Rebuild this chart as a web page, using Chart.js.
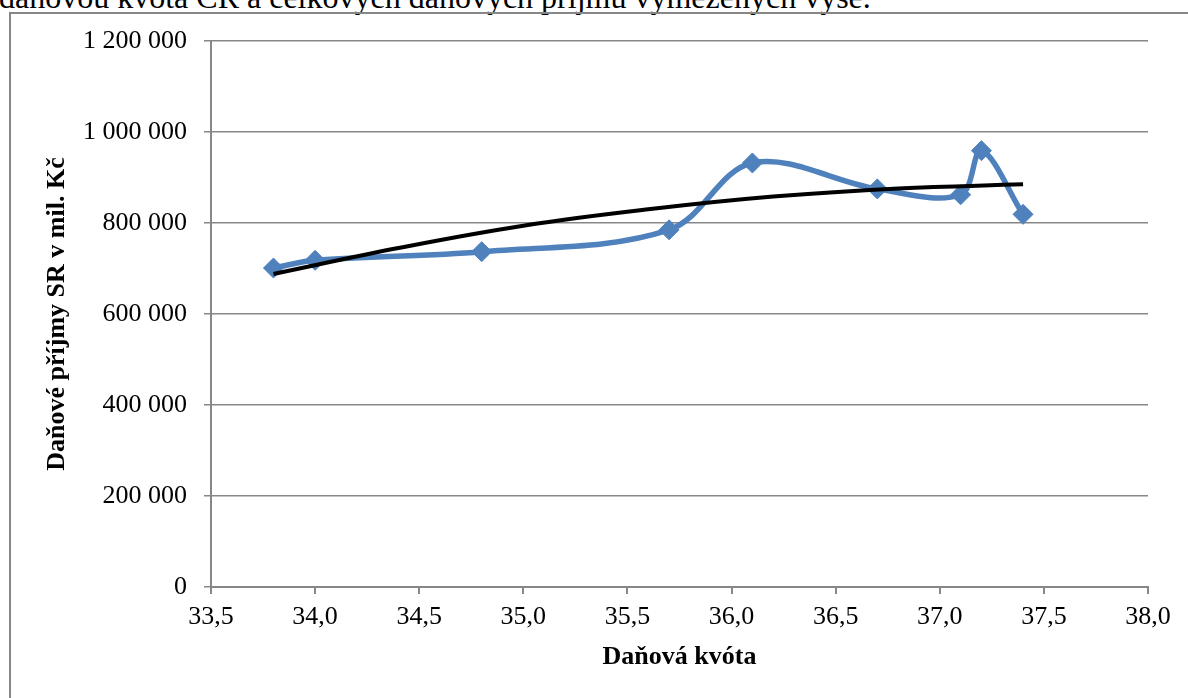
<!DOCTYPE html>
<html lang="cs">
<head>
<meta charset="utf-8">
<title>Daňové příjmy a daňová kvóta</title>
<script src="https://cdn.jsdelivr.net/npm/chart.js@4.4.1/dist/chart.umd.min.js"></script>
<style>
    html, body { margin: 0; padding: 0; background: #fff; overflow: hidden; }
    body { width: 1188px; height: 698px; position: relative; }
    .text {
        position: absolute; left: -1px; top: -19px; white-space: nowrap;
        font: 32px/32px 'Liberation Serif', 'Times New Roman', serif; color: #000;
    }
    .frame {
        position: absolute; left: 9px; top: 12px; width: 1300px; height: 800px;
        border: 2px solid #878787;
    }
    #chart { position: absolute; left: 0; top: 0; }
</style>
</head>
<body>
<div class="text">daňovou kvóta ČR a celkových daňových příjmů vymezených výše.</div>
<div class="frame"></div>
<canvas id="chart" width="1188" height="698"></canvas>
<script>
// daňová kvóta (%) a daňové příjmy (mil. Kč)
const kvota = [33.8, 34.0, 34.8, 35.7, 36.1, 36.7, 37.1, 37.2, 37.4];
const prijmy = [701000, 718000, 737000, 785000, 932000, 875000, 862000, 959000, 819000];

// spojnice trendu
const trendX = [33.8, 34.4, 35.0, 35.6, 36.2, 36.8, 37.4];
const trendY = [688000, 745000, 794000, 830000, 858000, 876000, 885000];

const xTicks = [33.5, 34.0, 34.5, 35.0, 35.5, 36.0, 36.5, 37.0, 37.5, 38.0];
const yTicks = [0, 200000, 400000, 600000, 800000, 1000000, 1200000];

const serif = "'Liberation Serif', 'Times New Roman', serif";
const axisGray = '#878787';
const modra = '#4f81bd';

function formatCislo(value) {
    return String(value).replace(/\B(?=(\d{3})+(?!\d))/g, ' ');
}

new Chart(document.getElementById('chart'), {
    type: 'scatter',
    data: {
        datasets: [
            {
                label: 'Trend',
                data: trendX.map((x, i) => ({ x: x, y: trendY[i] })),
                showLine: true,
                borderColor: '#000',
                borderWidth: 4,
                pointRadius: 0,
                tension: 0.4
            },
            {
                label: 'Daňové příjmy',
                data: kvota.map((x, i) => ({ x: x, y: prijmy[i] })),
                showLine: true,
                borderColor: modra,
                backgroundColor: modra,
                borderWidth: 5.5,
                pointStyle: 'rectRot',
                pointRadius: 10,
                pointBorderWidth: 1,
                pointBackgroundColor: modra,
                pointBorderColor: modra,
                tension: 0.35
            }
        ]
    },
    options: {
        responsive: false,
        animation: false,
        layout: { padding: { left: 0, top: 41, right: 40, bottom: 0 } },
        plugins: {
            legend: { display: false },
            tooltip: { enabled: false }
        },
        scales: {
            x: {
                type: 'linear',
                min: 33.5,
                max: 38,
                afterBuildTicks: scale => { scale.ticks = xTicks.map(v => ({ value: v })); },
                afterFit: scale => { scale.height = 111; },
                ticks: {
                    color: '#000',
                    padding: 8,
                    font: { family: serif, size: 26 },
                    callback: value => value.toFixed(1).replace('.', ',')
                },
                grid: {
                    drawOnChartArea: false,
                    drawTicks: true,
                    tickLength: 7,
                    color: axisGray,
                    lineWidth: 2
                },
                border: { display: true, color: axisGray, width: 2 },
                title: {
                    display: true,
                    text: 'Daňová kvóta',
                    color: '#000',
                    font: { family: serif, size: 26, weight: 'bold' },
                    padding: { top: 0, bottom: 25 }
                }
            },
            y: {
                min: 0,
                max: 1200000,
                afterBuildTicks: scale => { scale.ticks = yTicks.map(v => ({ value: v })); },
                afterFit: scale => { scale.width = 211; },
                ticks: {
                    color: '#000',
                    padding: 17,
                    font: { family: serif, size: 26 },
                    callback: value => formatCislo(value)
                },
                grid: {
                    drawTicks: true,
                    tickLength: 7,
                    color: axisGray,
                    lineWidth: 1.5
                },
                border: { display: true, color: axisGray, width: 2 },
                title: {
                    display: true,
                    text: 'Daňové příjmy SR v mil. Kč',
                    color: '#000',
                    font: { family: serif, size: 26, weight: 'bold' },
                    padding: { top: 42, bottom: 0 }
                }
            }
        }
    }
});
</script>
</body>
</html>
